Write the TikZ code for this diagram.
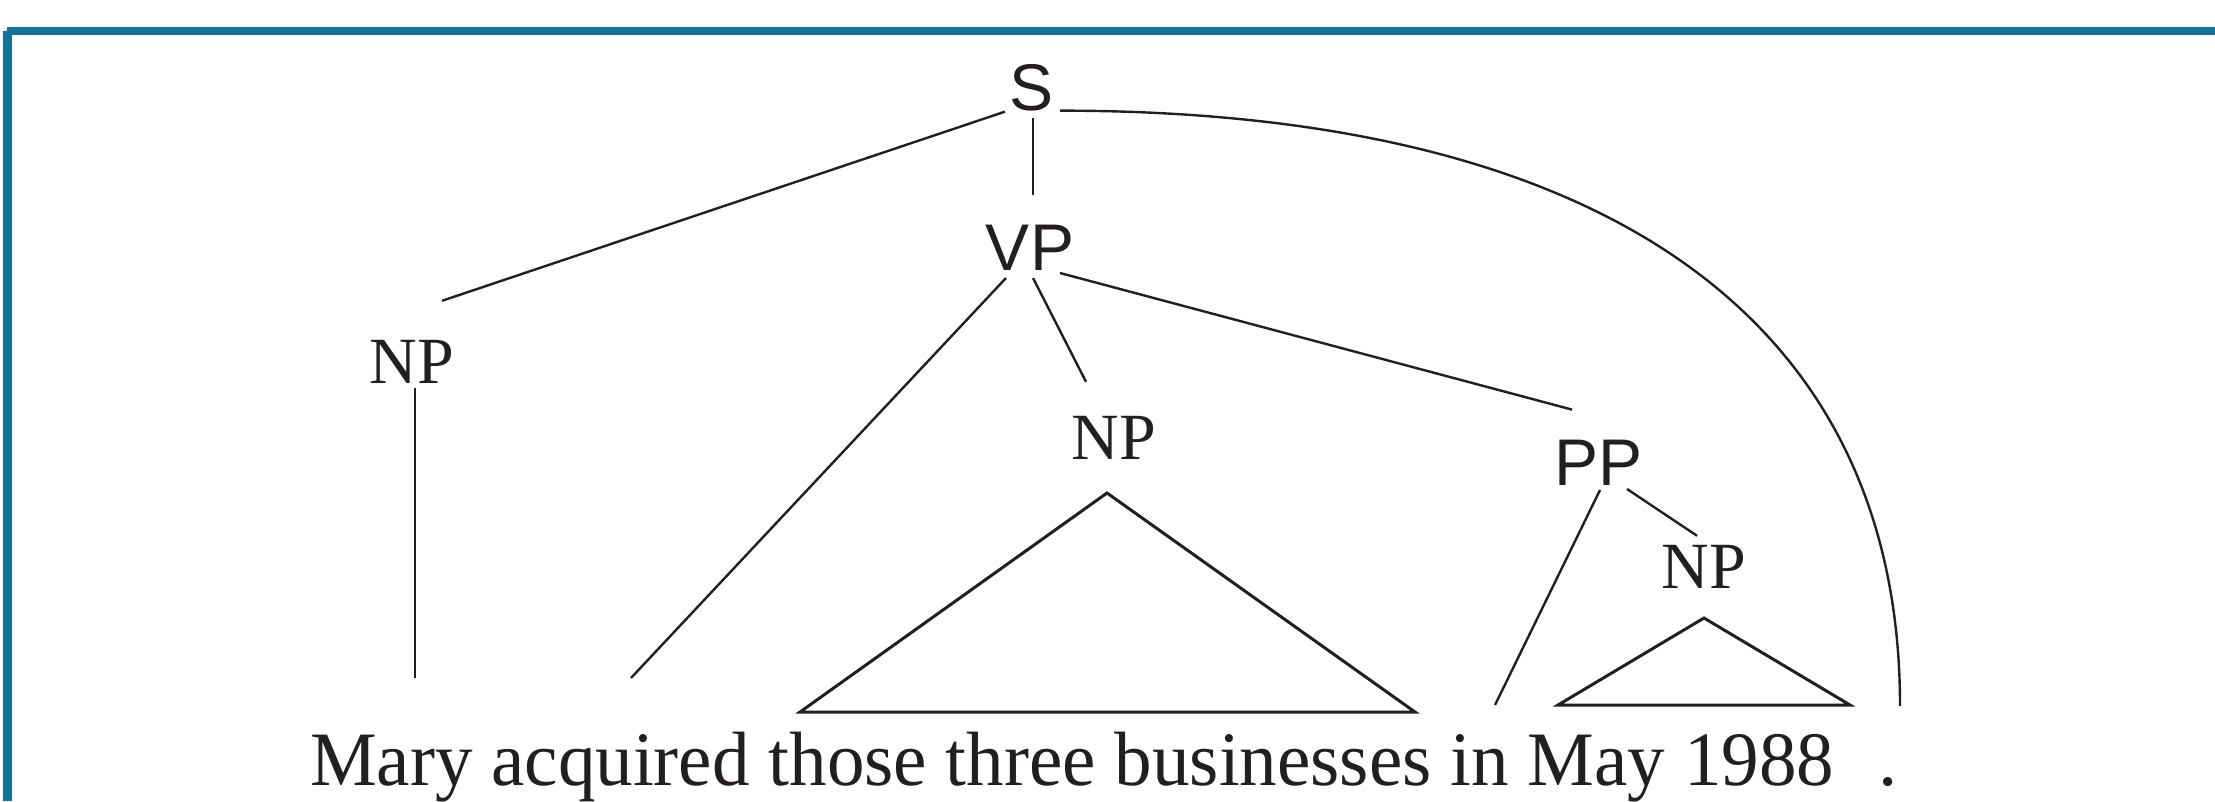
\documentclass[tikz,border=0pt]{standalone}
\usepackage{fontspec}
\setmainfont{Liberation Serif}
\setsansfont{Liberation Sans}
\definecolor{frameblue}{RGB}{17,114,156}
\definecolor{ink}{RGB}{35,31,32}
\tikzset{
  catsans/.style={font=\fontsize{66}{79}\selectfont\sffamily, inner sep=0pt, outer sep=0pt, anchor=base, text=ink},
  catserif/.style={font=\fontsize{66}{79}\selectfont\rmfamily, inner sep=0pt, outer sep=0pt, anchor=base, text=ink},
  branch/.style={draw=ink, line width=2.4pt},
  tri/.style={draw=ink, line width=3pt, line join=miter},
  words/.style={font=\fontsize{77}{92}\selectfont\rmfamily, inner sep=0pt, outer sep=0pt, text=ink},
}
\begin{document}
\begin{tikzpicture}[x=1pt,y=-1pt]
\useasboundingbox (0,0) rectangle (2215,801);
% frame edges
\fill[frameblue] (7,26.5) rectangle (2215,35);
\fill[frameblue] (3,31) rectangle (11.7,801);

% category labels
\node[catsans]  (S)   at (1031,110) {S};
\node[catsans]  (VP)  at (1030,270) {VP};
\node[catserif] (NPa) at (412,383)  {NP};
\node[catserif] (NPb) at (1114,459) {NP};
\node[catsans]  (PP)  at (1598,485) {PP};
\node[catserif] (NPc) at (1704,588) {NP};

% the sentence
\node[words, anchor=base west] (sent) at (310,785)
  {\scalebox{0.975}[1]{Mary acquired those three businesses in May 1988}};
\node[words, anchor=base] (stop) at (1888,785) {.};

% leaf ends and triangle corners
\coordinate (maryTop) at (415,678);
\coordinate (acqTop)  at (631,678);
\coordinate (inTop)   at (1495,705);
\coordinate (stopTop) at (1900,706);
\coordinate (triBL) at (800,712);
\coordinate (triBR) at (1415,712);
\coordinate (triSL) at (1558,705);
\coordinate (triSR) at (1850,705);

% branches
\draw[branch] ([xshift=-4pt,yshift=-1pt]S.south west) -- ([xshift=30pt,yshift=39pt]NPa.north);
\draw[branch] ([xshift=2pt,yshift=-7pt]S.south) -- ([xshift=3pt,yshift=30pt]VP.north);
\draw[branch] ([xshift=7pt]S.south east)
  .. controls ([xshift=553pt]S.south east) and ([yshift=386pt]stopTop) .. (stopTop);
\draw[branch] ([xshift=3pt,yshift=-5pt]NPa.south) -- (maryTop);
\draw[branch] ([xshift=-24pt,yshift=-8pt]VP.south) -- (acqTop);
\draw[branch] ([xshift=3pt,yshift=-8pt]VP.south) -- ([xshift=-28pt,yshift=34pt]NPb.north);
\draw[branch] ([xshift=-14pt,yshift=-3pt]VP.south east) -- ([xshift=-26pt,yshift=30pt]PP.north);
\draw[tri] ([xshift=-7pt,yshift=-34pt]NPb.south) -- (triBL) -- (triBR) -- cycle;
\draw[branch] ([xshift=2pt,yshift=-5pt]PP.south) -- (inTop);
\draw[branch] ([xshift=29pt,yshift=-4pt]PP.south) -- ([xshift=-7pt,yshift=9pt]NPc.north);
\draw[tri] ([yshift=-30pt]NPc.south) -- (triSL) -- (triSR) -- cycle;
\end{tikzpicture}
\end{document}
